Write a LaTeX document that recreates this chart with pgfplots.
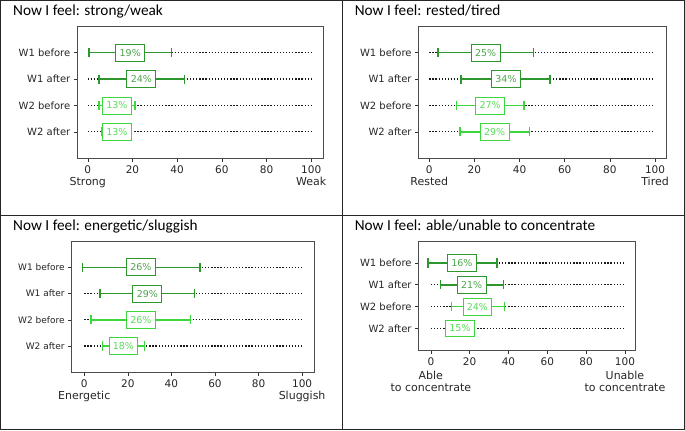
\documentclass[border=0pt]{standalone}
\usepackage{fontspec}
\setmainfont{DejaVu Sans}
\newfontfamily\titlefont{Carlito}
\usepackage{pgfplots}
\pgfplotsset{compat=1.18}

\definecolor{wone}{RGB}{45,150,45}
\definecolor{wtwo}{RGB}{60,215,60}

\pgfplotsset{
  panel/.style={
    scale only axis, anchor=south west,
    ymin=0, ymax=5, ytick={1,2,3,4},
    yticklabels={W2 after, W2 before, W1 after, W1 before},
    xtick={0,20,40,60,80,100},
    tick pos=left, tick align=outside, major tick length=3.5pt,
    tick style={black!80, line width=0.6pt},
    axis line style={black!70, line width=0.8pt},
    /pgf/number format/assume math mode=true,
    xticklabel style={font=\fontsize{10.5}{12}\selectfont, text=black!85},
    yticklabel style={font=\fontsize{10}{12}\selectfont, text=black!85},
    clip=false,
  },
}

% one questionnaire row: y position, whisker low, whisker high, score, colour
\newcommand{\scorerow}[5]{%
  \addplot[black!90, line width=1.3pt, dash pattern=on 1.3pt off 1.8pt]
    coordinates {(0,#1) (100,#1)};
  \addplot[#5, line width=1.5pt, mark=|, mark size=4.6pt, mark options={solid, line width=1.8pt}]
    coordinates {(#2,#1) (#3,#1)};
  \addplot[draw=none, point meta=x,
    nodes near coords={\pgfmathprintnumber[fixed,precision=0]{\pgfplotspointmeta}\%},
    every node near coord/.style={anchor=center, draw=#5, fill=white, line width=0.9pt,
      text=#5!85!white, minimum width=29pt, minimum height=17pt, inner sep=0pt,
      font=\fontsize{9.5}{9.5}\selectfont}]
    coordinates {(#4,#1)};
}

\newcommand{\scalelabel}[3]{% x position, shift below axis, text
  \node[anchor=base, font=\fontsize{11}{13}\selectfont, text=black!85, yshift=-#2]
    at (axis cs:#1,0) {#3};
}

\begin{document}
\begin{tikzpicture}
  % frame of the 2x2 grid
  \draw[black!85, line width=1pt] (0.5pt,0.5pt) rectangle (684.5pt,429.5pt);
  \draw[black!85, line width=0.8pt] (342.3pt,0pt) -- (342.3pt,430pt);
  \draw[black!85, line width=0.8pt] (0pt,215pt) -- (685pt,215pt);

  \node[anchor=base west, font=\titlefont\fontsize{15.3}{15}\selectfont] at (9.3pt,415pt) {Now I feel: strong/weak};
  \node[anchor=base west, font=\titlefont\fontsize{15.3}{15}\selectfont] at (351.3pt,415pt) {Now I feel: rested/tired};
  \node[anchor=base west, font=\titlefont\fontsize{15.3}{15}\selectfont] at (9.3pt,200pt) {Now I feel: energetic/sluggish};
  \node[anchor=base west, font=\titlefont\fontsize{15.3}{15}\selectfont] at (351.3pt,200pt) {Now I feel: able/unable to concentrate};

  % strong / weak
  \begin{axis}[panel, at={(77pt,272pt)}, width=246pt, height=132pt, xmin=-4.7, xmax=105.3]
    \scorerow{4}{0.5}{37.5}{19}{wone}
    \scorerow{3}{4.9}{43.3}{24}{wone}
    \scorerow{2}{4.9}{21.3}{13}{wtwo}
    \scorerow{1}{6.4}{19.6}{13}{wtwo}
    \scalelabel{0}{27.3pt}{Strong}
    \scalelabel{100}{27.3pt}{Weak}
  \end{axis}

  % rested / tired
  \begin{axis}[panel, at={(418.7pt,272pt)}, width=248pt, height=132pt, xmin=-4.7, xmax=105.0]
    \scorerow{4}{4.0}{46.2}{25}{wone}
    \scorerow{3}{14.2}{53.5}{34}{wone}
    \scorerow{2}{12.1}{41.9}{27}{wtwo}
    \scorerow{1}{13.7}{44.4}{29}{wtwo}
    \scalelabel{0}{27.3pt}{Rested}
    \scalelabel{100}{27.3pt}{Tired}
  \end{axis}

  % energetic / sluggish
  \begin{axis}[panel, at={(71.3pt,57.7pt)}, width=243.4pt, height=131.3pt, xmin=-5.8, xmax=105.8,
      yticklabel style={font=\fontsize{9}{11}\selectfont}]
    \scorerow{4}{-0.8}{53.1}{26}{wone}
    \scorerow{3}{7.3}{50.6}{29}{wone}
    \scorerow{2}{3.1}{48.8}{26}{wtwo}
    \scorerow{1}{8.4}{27.7}{18}{wtwo}
    \scalelabel{0}{27.7pt}{Energetic}
    \scalelabel{100}{27.7pt}{Sluggish}
  \end{axis}

  % able / unable to concentrate
  \begin{axis}[panel, at={(418.7pt,79.7pt)}, width=217.3pt, height=109.3pt, xmin=-6.3, xmax=105.5]
    \scorerow{4}{-1.5}{34.0}{16}{wone}
    \scorerow{3}{5.0}{37.4}{21}{wone}
    \scorerow{2}{10.6}{37.9}{24}{wtwo}
    \scorerow{1}{8.5}{21.5}{15}{wtwo}
    \scalelabel{0}{29.7pt}{Able}
    \scalelabel{0}{41.4pt}{to concentrate}
    \scalelabel{100}{29.7pt}{Unable}
    \scalelabel{100}{41.4pt}{to concentrate}
  \end{axis}
\end{tikzpicture}
\end{document}
